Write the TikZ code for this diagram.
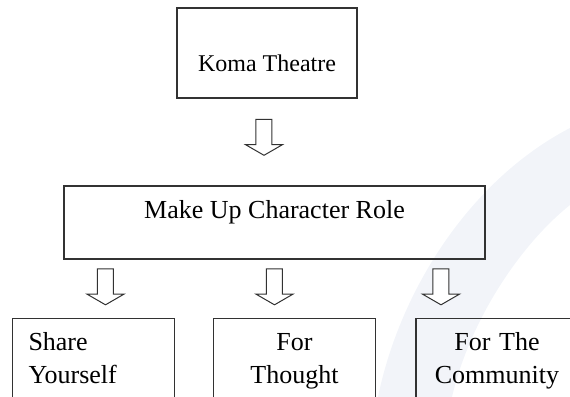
\documentclass[tikz,border=0pt]{standalone}
\usepackage{fontspec}
\setmainfont{Liberation Serif}
\usetikzlibrary{shapes.arrows}
\definecolor{boxline}{RGB}{50,50,50}
\definecolor{markblue}{RGB}{242,244,249}
\begin{document}
\begin{tikzpicture}[x=0.5pt,y=-0.5pt,
    font=\fontsize{13}{16.25}\selectfont,
    box/.style={draw=boxline,line width=0.7pt,rectangle,inner sep=0pt},
    leaf/.style={box,anchor=north,text width=65pt,inner xsep=8pt,inner ysep=7pt,text height=9pt,text depth=30pt},
    blockarrow/.style={single arrow,draw=boxline,line width=0.5pt,fill=white,shape border rotate=270,
      minimum width=18pt,minimum height=18pt,inner sep=3.75pt,single arrow head extend=5.25pt,single arrow tip angle=120}]
  \useasboundingbox (0,0) rectangle (570,397);
  \clip (0,0) rectangle (570,397);
  % faint watermark
  \fill[markblue] (378,397) .. controls (400,290) and (470,180) .. (570,128) -- (570,205)
    .. controls (520,245) and (470,320) .. (452,397) -- cycle;

  \node[box,minimum width=90pt,minimum height=45pt,text height=18pt,text depth=0pt,font=\fontsize{12}{14.4}\selectfont] (koma) at (267,53) {Koma Theatre};
  \node[box,minimum width=210.5pt,minimum height=36.5pt,text height=9pt,text depth=13.5pt] (role) at (274.5,222.5) {Make Up Character Role};
  \node[blockarrow,below of=koma,node distance=41pt,xshift=-1.5pt] (down) {};

  \node[blockarrow,below of=role,node distance=31pt,xshift=-84.5pt] (left) {};
  \node[blockarrow,below of=role,node distance=31pt] (mid) {};
  \node[blockarrow,below of=role,node distance=31pt,xshift=83.25pt] (right) {};

  \node[leaf,align=left] (share) at (93.5,318) {Share\\Yourself};
  \node[leaf,align=center] (thought) at (294.5,318) {For\\Thought};
  \node[leaf,align=center] (community) at (497,318) {For The\\Community};
\end{tikzpicture}
\end{document}
